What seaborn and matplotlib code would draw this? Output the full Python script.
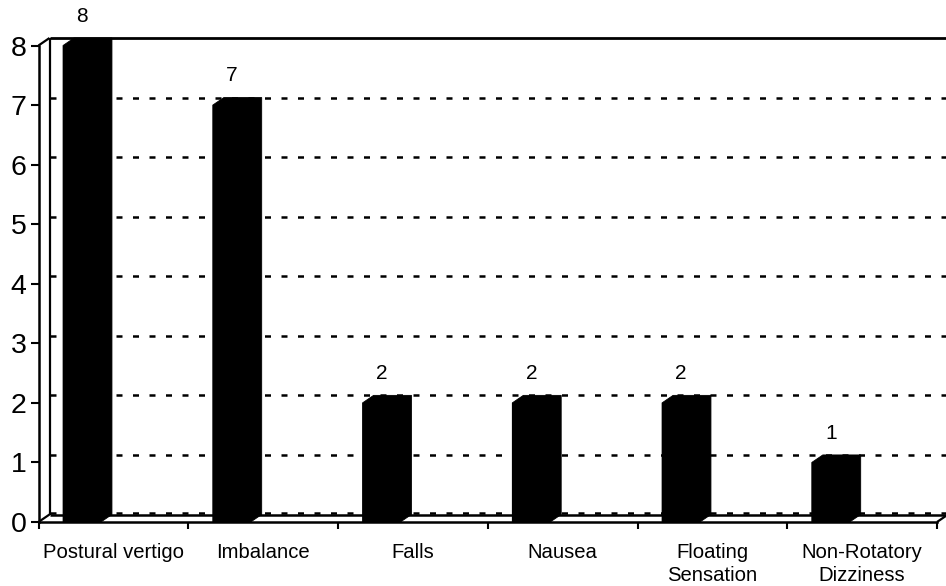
import matplotlib
matplotlib.use("Agg")
import matplotlib.pyplot as plt
import seaborn as sns
import pandas as pd

# Symptom counts
categories = ["Postural vertigo", "Imbalance", "Falls", "Nausea",
              "Floating\nSensation", "Non-Rotatory\nDizziness"]
counts = [8, 7, 2, 2, 2, 1]
y_ticks = [0, 1, 2, 3, 4, 5, 6, 7, 8]

df = pd.DataFrame({"symptom": categories, "count": counts})

sns.set_style("white")
plt.rcParams["font.family"] = ["Liberation Sans", "DejaVu Sans"]

W, H = 946, 586
fig = plt.figure(figsize=(W / 100, H / 100), dpi=100)
# front plane of the pseudo-3D chart, in pixel placement
left_px, right_px, bottom_px, top_px = 38.5, 937.0, 522.0, 45.5
ax = fig.add_axes([left_px / W, (H - bottom_px) / H,
                   (right_px - left_px) / W, (bottom_px - top_px) / H])

sns.barplot(data=df, x="symptom", y="count", color="black", saturation=1,
            width=0.253, edgecolor="black", linewidth=0, ax=ax, zorder=3)

n = len(categories)
xmin = -0.2905
xmax = xmin + n
ax.set_xlim(xmin, xmax)
ax.set_ylim(0, 8)

# depth offset of the 3D box, converted to data units
px_per_x = (right_px - left_px) / n
px_per_y = (bottom_px - top_px) / 8
ddx = 11 / px_per_x
ddy = 7.5 / px_per_y

# back wall: dashed gridlines
for v in y_ticks[:-1]:
    yv = v + ddy + (2.0 / px_per_y if v == 0 else 0)
    ax.plot([xmin + ddx, xmax + ddx + 0.2], [yv, yv], color="black", lw=1.8,
            dashes=(2.4, 4.2), clip_on=False, zorder=0.5)

# back wall frame and floor edges
edge = dict(color="black", clip_on=False, solid_capstyle="butt", zorder=2)
ax.plot([xmin + ddx, xmax + ddx + 0.2], [8 + ddy, 8 + ddy], lw=2.0, **edge)
ax.plot([xmin + ddx, xmin + ddx], [ddy, 8 + ddy], lw=1.6, **edge)
ax.plot([xmin + ddx, xmax + ddx], [ddy, ddy], lw=1.8, **edge)
ax.plot([xmin, xmin + ddx], [8, 8 + ddy], lw=1.6, **edge)
ax.plot([xmin, xmin + ddx], [0, ddy], lw=1.6, **edge)
ax.plot([xmax, xmax + ddx], [0, ddy], lw=1.6, **edge)

# full prism outline of each column (front, top and side faces)
for p in list(ax.patches):
    x0 = p.get_x()
    x1 = x0 + p.get_width()
    v = p.get_height()
    ax.fill([x0, x0, x0 + ddx, x1 + ddx, x1 + ddx, x1],
            [0, v, v + ddy, v + ddy, ddy, 0],
            facecolor="black", edgecolor="black", lw=0.6,
            clip_on=False, zorder=3)
    ax.annotate(f"{v:g}", (x0 + p.get_width() / 2, v), xytext=(0, 17.0),
                textcoords="offset points", ha="center", va="baseline",
                fontsize=15, color="black", annotation_clip=False)

# axes
centers = [xmin + 0.5 + i for i in range(n)]
bounds = [xmin + i for i in range(n + 1)]
ax.set_xticks(centers, labels=categories)
ax.set_xticks(bounds, minor=True)
for t in ax.get_xticklabels():
    t.set_linespacing(1.3)
ax.set_yticks(y_ticks)
ax.set_xlabel("")
ax.set_ylabel("")
ax.tick_params(axis="x", which="major", length=0, pad=15, labelsize=14.6,
               colors="black")
ax.tick_params(axis="x", which="minor", length=5, width=1.5, direction="out",
               bottom=True, color="black")
ax.tick_params(axis="y", length=6, width=1.5, direction="out", left=True,
               pad=2.5, labelsize=20.5, colors="black")
for s in ["top", "right"]:
    ax.spines[s].set_visible(False)
for s in ["left", "bottom"]:
    ax.spines[s].set_linewidth(1.8)
    ax.spines[s].set_color("black")
    ax.spines[s].set_capstyle("projecting")

fig.savefig("out.png", dpi=100, facecolor="white")
